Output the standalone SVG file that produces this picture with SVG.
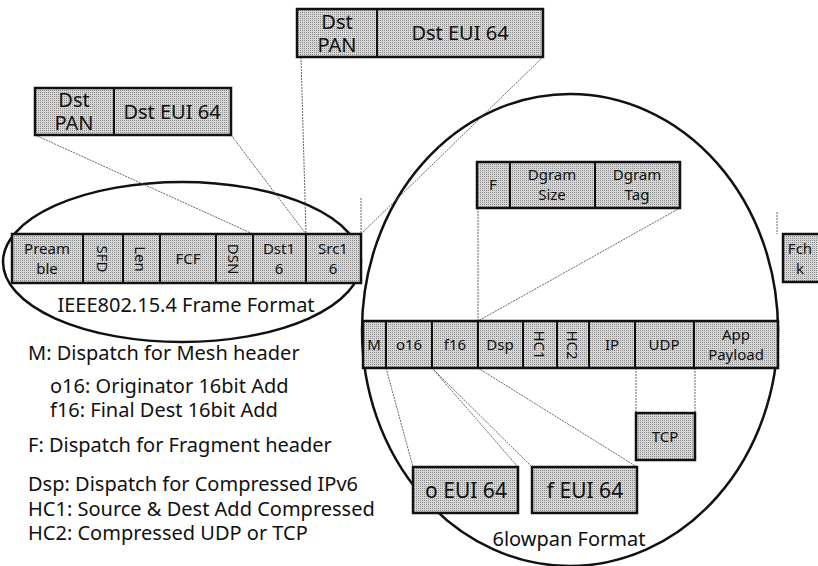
<svg xmlns="http://www.w3.org/2000/svg" width="818" height="566" viewBox="0 0 818 566">
<defs>
<pattern id="dots" width="2" height="2" patternUnits="userSpaceOnUse">
<rect width="2" height="2" fill="#d6d6d6"/>
<rect width="1" height="1" fill="#8c8c8c"/>
</pattern>
<style>
.cell{fill:url(#dots);stroke:#111;stroke-width:2.5}
.div{stroke:#111;stroke-width:2}
.t{font-family:"Noto Sans","Open Sans",sans-serif;fill:#111;text-anchor:middle}
.s15{font-size:15px}
.s20{font-size:20px}
.s21{font-size:21px}
.leg{font-family:"Noto Sans","Open Sans",sans-serif;fill:#111;font-size:20px}
.ell{fill:none;stroke:#111;stroke-width:2.5}
.con line{stroke:#555;stroke-width:0.9;stroke-dasharray:2 1}
</style>
</defs>
<rect width="818" height="566" fill="#fff"/>

<g id="ellipse-ieee"><ellipse class="ell" cx="182" cy="262" rx="179" ry="80"/></g>
<g id="ellipse-6lowpan"><ellipse class="ell" cx="570" cy="330" rx="208" ry="236"/></g>

<g id="connectors" class="con">
<line x1="35" y1="135" x2="253" y2="234"/>
<line x1="231" y1="135" x2="306" y2="234"/>
<line x1="301" y1="57" x2="306" y2="234"/>
<line x1="543" y1="57" x2="361" y2="234"/>
<line x1="361" y1="198" x2="361" y2="234"/>
<line x1="777" y1="212" x2="777" y2="234"/>
<line x1="478" y1="208" x2="478" y2="321"/>
<line x1="680" y1="208" x2="478" y2="321"/>
<line x1="636" y1="368" x2="636" y2="413"/>
<line x1="695" y1="368" x2="695" y2="413"/>
<line x1="386" y1="368" x2="413" y2="467"/>
<line x1="432" y1="368" x2="518" y2="467"/>
<line x1="432" y1="368" x2="532" y2="467"/>
<line x1="478" y1="368" x2="637" y2="467"/>
</g>

<g id="box-dst-upper">
<rect class="cell" x="297" y="9" width="246" height="48"/>
<line class="div" x1="377" y1="9" x2="377" y2="57"/>
<text class="t s20" x="337" y="29">Dst</text>
<text class="t s20" x="337" y="52">PAN</text>
<text class="t s20" x="460" y="40">Dst EUI 64</text>
</g>

<g id="box-dst-left">
<rect class="cell" x="35" y="88" width="196" height="47"/>
<line class="div" x1="114" y1="88" x2="114" y2="135"/>
<text class="t s20" x="74" y="107">Dst</text>
<text class="t s20" x="74" y="130">PAN</text>
<text class="t s20" x="172" y="119">Dst EUI 64</text>
</g>

<g id="frame-row">
<rect class="cell" x="12" y="234" width="349" height="49"/>
<line class="div" x1="83" y1="234" x2="83" y2="283"/>
<line class="div" x1="123" y1="234" x2="123" y2="283"/>
<line class="div" x1="160" y1="234" x2="160" y2="283"/>
<line class="div" x1="216" y1="234" x2="216" y2="283"/>
<line class="div" x1="253" y1="234" x2="253" y2="283"/>
<line class="div" x1="306" y1="234" x2="306" y2="283"/>
<text class="t s15" x="47" y="254">Pream</text>
<text class="t s15" x="47" y="274">ble</text>
<text class="t s15" transform="translate(103 259) rotate(90)" dominant-baseline="central">SFD</text>
<text class="t s15" transform="translate(141 259) rotate(90)" dominant-baseline="central">Len</text>
<text class="t s15" x="188" y="264">FCF</text>
<text class="t s15" transform="translate(234 259) rotate(90)" dominant-baseline="central">DSN</text>
<text class="t s15" x="279" y="254">Dst1</text>
<text class="t s15" x="279" y="274">6</text>
<text class="t s15" x="333" y="254">Src1</text>
<text class="t s15" x="333" y="274">6</text>
</g>

<g id="box-fchk">
<rect class="cell" x="783" y="234" width="40" height="48"/>
<text class="t s15" x="800" y="254">Fch</text>
<text class="t s15" x="800" y="274">k</text>
</g>

<g id="box-frag">
<rect class="cell" x="477" y="162" width="203" height="46"/>
<line class="div" x1="510" y1="162" x2="510" y2="208"/>
<line class="div" x1="595" y1="162" x2="595" y2="208"/>
<text class="t s15" x="493" y="190">F</text>
<text class="t s15" x="552" y="180">Dgram</text>
<text class="t s15" x="552" y="200">Size</text>
<text class="t s15" x="637" y="180">Dgram</text>
<text class="t s15" x="637" y="200">Tag</text>
</g>

<g id="lowpan-row">
<rect class="cell" x="363" y="321" width="415" height="47"/>
<line class="div" x1="386" y1="321" x2="386" y2="368"/>
<line class="div" x1="432" y1="321" x2="432" y2="368"/>
<line class="div" x1="478" y1="321" x2="478" y2="368"/>
<line class="div" x1="523" y1="321" x2="523" y2="368"/>
<line class="div" x1="557" y1="321" x2="557" y2="368"/>
<line class="div" x1="589" y1="321" x2="589" y2="368"/>
<line class="div" x1="635" y1="321" x2="635" y2="368"/>
<line class="div" x1="694" y1="321" x2="694" y2="368"/>
<text class="t s15" x="374" y="350">M</text>
<text class="t s15" x="409" y="350">o16</text>
<text class="t s15" x="455" y="350">f16</text>
<text class="t s15" x="500" y="350">Dsp</text>
<text class="t s15" transform="translate(540 345) rotate(90)" dominant-baseline="central">HC1</text>
<text class="t s15" transform="translate(573 345) rotate(90)" dominant-baseline="central">HC2</text>
<text class="t s15" x="612" y="350">IP</text>
<text class="t s15" x="664" y="350">UDP</text>
<text class="t s15" x="736" y="340">App</text>
<text class="t s15" x="736" y="360">Payload</text>
</g>

<g id="box-tcp">
<rect class="cell" x="636" y="413" width="59" height="47"/>
<text class="t s15" x="665" y="442">TCP</text>
</g>

<g id="box-o-eui">
<rect class="cell" x="413" y="467" width="105" height="46"/>
<text class="t s21" x="466" y="498">o EUI 64</text>
</g>

<g id="box-f-eui">
<rect class="cell" x="532" y="467" width="105" height="46"/>
<text class="t s21" x="585" y="498">f EUI 64</text>
</g>

<g id="labels">
<text class="t s20" x="186" y="312">IEEE802.15.4 Frame Format</text>
<text class="t s20" x="569" y="546">6lowpan Format</text>
<text class="leg" x="28" y="360">M: Dispatch for Mesh header</text>
<text class="leg" x="50" y="393">o16: Originator 16bit Add</text>
<text class="leg" x="50" y="417">f16: Final Dest 16bit Add</text>
<text class="leg" x="28" y="452">F: Dispatch for Fragment header</text>
<text class="leg" x="28" y="491">Dsp: Dispatch for Compressed IPv6</text>
<text class="leg" x="28" y="516">HC1: Source &amp; Dest Add Compressed</text>
<text class="leg" x="28" y="540">HC2: Compressed UDP or TCP</text>
</g>
</svg>
